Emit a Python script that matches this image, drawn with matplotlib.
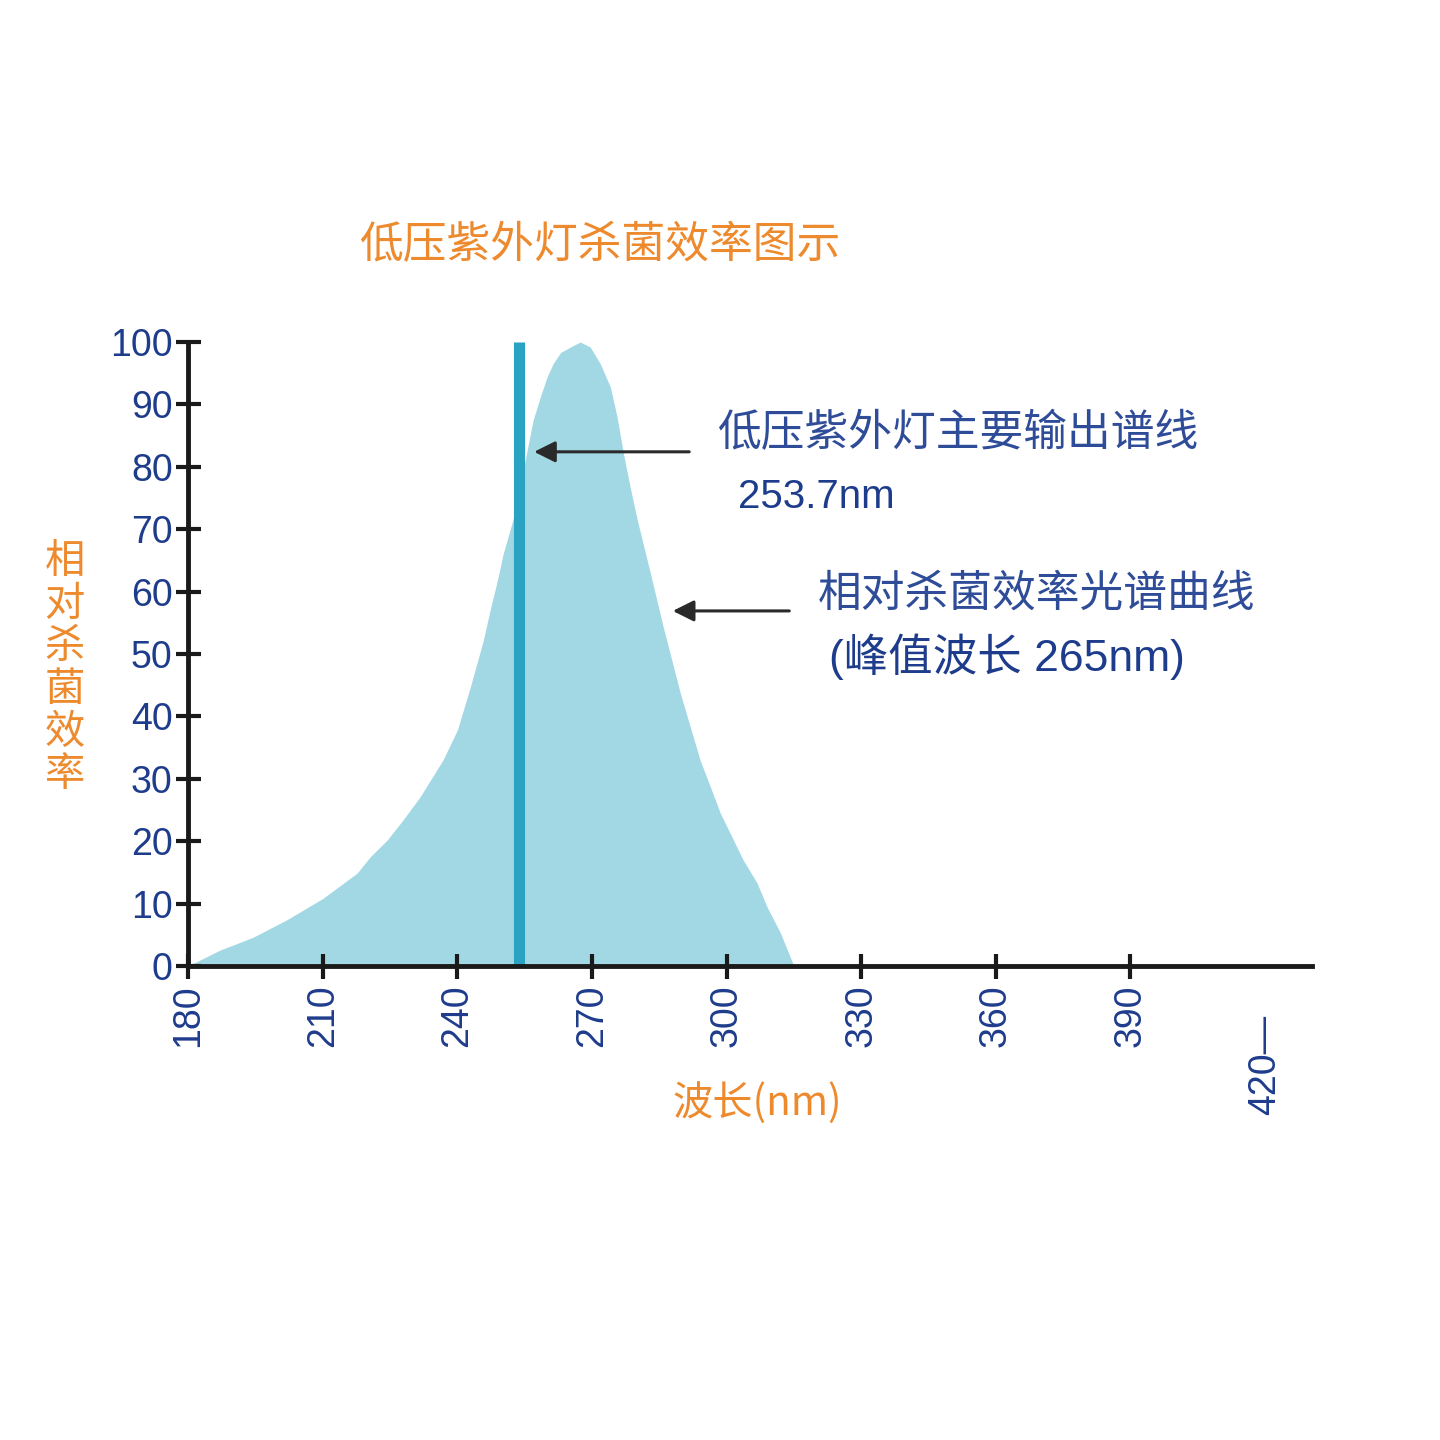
import matplotlib
matplotlib.use("Agg")
import matplotlib.pyplot as plt

plt.rcParams['font.family'] = ['Noto Sans CJK SC', 'DejaVu Sans']

# curve values
wavelength = [180, 187, 194.5, 202, 210, 217.7, 220.6, 224.4, 227.9, 231.7, 236.8,
              240, 242.9, 245.8, 247.3, 249, 250.2, 252.4, 254.7, 256.9, 258.5,
              260, 261.4, 263, 265.2, 267.4, 269.6, 271.8, 274.1, 275.6, 277,
              278.5, 280.1, 283, 285.9, 289.7, 294.1, 296.4, 298.6, 303.7, 306.8,
              309, 312, 315]
efficiency = [0, 2.5, 4.6, 7.4, 10.8, 14.9, 17.5, 20.2, 23.4, 27.1, 33,
              37.8, 44.7, 52.2, 57, 62, 66, 71.5, 79.5, 87.5, 91.2,
              94.4, 96.6, 98.3, 99.2, 100, 99.2, 96.6, 92.8, 88, 82.2,
              76.8, 71.5, 63, 54.3, 43.7, 33, 28.7, 24.5, 17, 13.3,
              9.5, 5.3, 0]
lamp_line = 253.7
xticks = [180, 210, 240, 270, 300, 330, 360, 390]
yticks = [0, 10, 20, 30, 40, 50, 60, 70, 80, 90, 100]

orange = '#EE8A2E'
navy = '#1E3C8C'
text_blue = '#2E4C98'
digits = 'Liberation Sans'

fig = plt.figure(figsize=(14.4, 14.4), dpi=100)
ax = fig.add_axes([0.1306, 0.3292, 0.7806, 0.4333])

# curve + lamp line
ax.fill_between(wavelength, efficiency, color='#A2D8E4', lw=0, zorder=1)
ax.vlines(lamp_line, 0, 100, color='#2AA3C2', lw=8, zorder=2)

ax.set_xlim(180, 430.5)
ax.set_ylim(0, 100)
ax.spines['top'].set_visible(False)
ax.spines['right'].set_visible(False)
for s in ['left', 'bottom']:
    ax.spines[s].set_linewidth(3.5)
    ax.spines[s].set_color('#1a1a1a')
    ax.spines[s].set_zorder(3)

ax.set_xticks(xticks)
ax.set_yticks(yticks)
ax.set_xticklabels([str(v) for v in xticks], rotation=90, family=digits,
                   fontsize=27, color=navy, va='top')
ax.set_yticklabels([str(v) for v in yticks], family=digits, fontsize=27,
                   color=navy)
ax.tick_params(direction='inout', length=18, width=3, color='#1a1a1a')
ax.tick_params(axis='x', pad=4)
ax.tick_params(axis='y', pad=2)

# odd 420 label sitting lower than the rest
fig.text(0.8785, 0.2604, '420\u2014', rotation=90, ha='center', va='center',
         family=digits, fontsize=27, color=navy)

# titles
fig.text(0.4167, 0.830, '低压紫外灯杀菌效率图示', ha='center', va='center',
         fontsize=31.5, color=orange)
fig.text(0.045, 0.536, '\n'.join('相对杀菌效率'), ha='center', va='center',
         fontsize=29, color=orange, linespacing=1.05)
fig.text(0.5257, 0.234, '波长(nm)', ha='center', va='center',
         fontsize=29, color=orange)

# annotations
fig.text(0.498, 0.699, '低压紫外灯主要输出谱线', ha='left', va='center',
         fontsize=31.5, color=text_blue)
fig.text(0.5125, 0.655, '253.7nm', ha='left', va='center',
         family=digits, fontsize=29, color=navy)
fig.text(0.568, 0.588, '相对杀菌效率光谱曲线', ha='left', va='center',
         fontsize=31.5, color=text_blue)
fig.text(0.576, 0.544, '(峰值波长 265nm)', ha='left', va='center',
         fontsize=32, color=navy, family=['Liberation Sans', 'Noto Sans CJK SC'])

arrow = dict(arrowstyle='-|>', mutation_scale=32, lw=2.2, color='#2a2a2a')
ax.annotate('', xy=(256.5, 82.4), xytext=(292.3, 82.4), arrowprops=arrow)
ax.annotate('', xy=(287.4, 56.9), xytext=(314.6, 56.9), arrowprops=arrow)

plt.savefig('out.png', dpi=100)
